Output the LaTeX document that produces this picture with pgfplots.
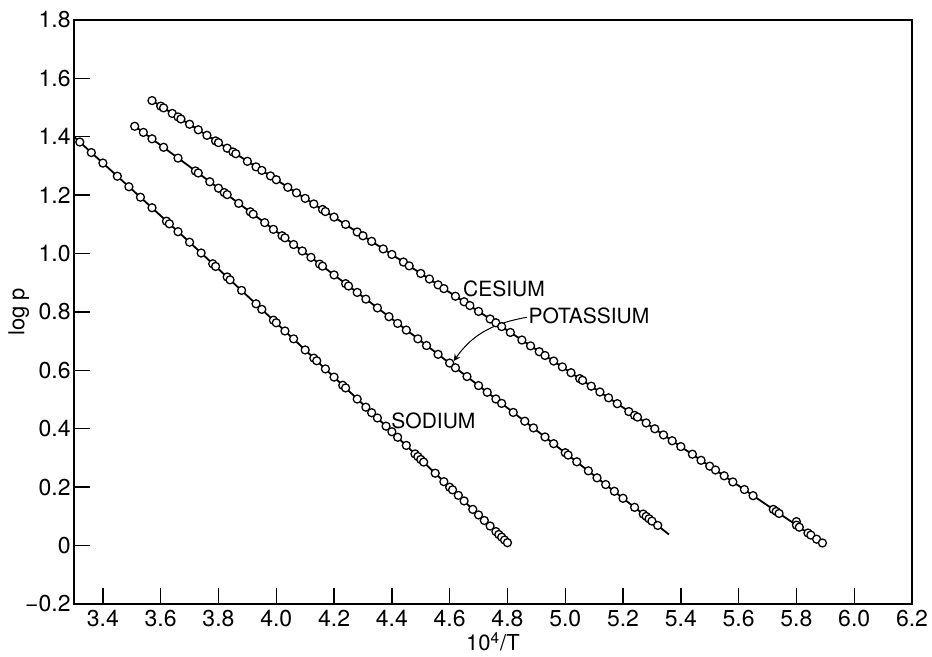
\documentclass[border=0pt]{standalone}
\usepackage{fontspec}
\setmainfont{TeX Gyre Heros}
\usepackage{pgfplots}
\pgfplotsset{compat=1.18}
\begin{document}
\begin{tikzpicture}
\begin{axis}[
  scale only axis,
  width=419pt, height=292pt,
  xmin=3.3, xmax=6.2, ymin=-0.2, ymax=1.8,
  axis line style={line width=1.1pt},
  tick style={line width=0.7pt, black},
  major tick length=8pt,
  tick align=inside,
  tick pos=left,
  xtick={3.4,3.6,3.8,4.0,4.2,4.4,4.6,4.8,5.0,5.2,5.4,5.6,5.8,6.0,6.2},
  xticklabels={3.4,3.6,3.8,4.0,4.2,4.4,4.6,4.8,5.0,5.2,5.4,5.6,5.8,6.0,6.2},
  ytick={-0.2,0,0.2,0.4,0.6,0.8,1.0,1.2,1.4,1.6,1.8},
  yticklabels={−0.2,0,0.2,0.4,0.6,0.8,1.0,1.2,1.4,1.6,1.8},
  ticklabel style={font=\fontsize{11.5}{13}\selectfont},
  yticklabel style={inner xsep=1.5pt},
  xticklabel style={inner ysep=3pt},
  xlabel={10\textsuperscript{4}/T},
  ylabel={log p},
  label style={font=\fontsize{11}{13}\selectfont},
  xlabel style={yshift=4pt},
  ylabel style={yshift=-7pt},
  clip=false,
  every axis plot/.append style={line join=round},
]
% fitted lines
\addplot[black, line width=0.9pt] coordinates {
(3.3,1.400)(3.5,1.220)(3.7,1.039)(3.9,0.855)(4.1,0.670)(4.3,0.484)(4.5,0.295)(4.7,0.105)(4.8,0.010)};
\addplot[black, line width=0.9pt] coordinates {
(3.508,1.438)(3.7,1.298)(3.9,1.150)(4.1,1.002)(4.3,0.852)(4.5,0.701)(4.7,0.548)(4.9,0.395)(5.1,0.240)(5.3,0.084)(5.359,0.038)};
\addplot[black, line width=0.9pt] coordinates {
(3.57,1.524)(3.8,1.380)(4.0,1.253)(4.2,1.125)(4.4,0.997)(4.6,0.867)(4.8,0.737)(5.0,0.605)(5.2,0.473)(5.4,0.339)(5.6,0.205)(5.8,0.070)(5.888,0.010)};
% sodium data
\addplot[only marks, mark=*, mark size=2pt, mark options={fill=white, draw=black, line width=0.65pt}] coordinates {
(3.32,1.382)(3.36,1.346)(3.40,1.310)(3.45,1.265)(3.49,1.229)(3.53,1.193)(3.57,1.157)(3.62,1.111)(3.63,1.102)(3.66,1.075)
(3.70,1.039)(3.74,1.002)(3.78,0.965)(3.79,0.956)(3.83,0.920)(3.84,0.910)(3.88,0.874)(3.93,0.828)(3.95,0.809)(3.99,0.772)
(4.00,0.763)(4.03,0.735)(4.06,0.708)(4.10,0.670)(4.13,0.642)(4.14,0.633)(4.17,0.605)(4.20,0.577)(4.23,0.549)(4.24,0.540)
(4.28,0.502)(4.31,0.474)(4.33,0.455)(4.35,0.437)(4.38,0.409)(4.40,0.390)(4.42,0.371)(4.45,0.343)(4.48,0.314)(4.49,0.305)
(4.50,0.295)(4.51,0.286)(4.55,0.248)(4.58,0.219)(4.60,0.200)(4.61,0.191)(4.63,0.172)(4.65,0.153)(4.68,0.124)(4.70,0.105)
(4.72,0.086)(4.74,0.067)(4.76,0.048)(4.77,0.038)(4.78,0.029)(4.79,0.019)(4.80,0.010)};
% potassium data
\addplot[only marks, mark=*, mark size=2pt, mark options={fill=white, draw=black, line width=0.65pt}] coordinates {
(3.51,1.436)(3.54,1.415)(3.57,1.393)(3.61,1.364)(3.66,1.327)(3.72,1.283)(3.73,1.276)(3.77,1.246)(3.80,1.224)(3.82,1.209)
(3.83,1.202)(3.87,1.172)(3.91,1.143)(3.92,1.135)(3.96,1.106)(3.99,1.083)(4.02,1.061)(4.03,1.054)(4.06,1.031)(4.09,1.009)
(4.12,0.987)(4.15,0.964)(4.16,0.957)(4.20,0.927)(4.24,0.897)(4.25,0.889)(4.28,0.867)(4.31,0.844)(4.35,0.814)(4.39,0.784)
(4.42,0.761)(4.45,0.738)(4.49,0.708)(4.52,0.685)(4.56,0.655)(4.60,0.625)(4.62,0.609)(4.66,0.579)(4.70,0.548)(4.73,0.525)
(4.76,0.502)(4.78,0.487)(4.82,0.456)(4.86,0.426)(4.89,0.403)(4.93,0.372)(4.96,0.349)(5.00,0.318)(5.01,0.310)(5.04,0.287)
(5.08,0.256)(5.11,0.232)(5.14,0.209)(5.17,0.186)(5.20,0.162)(5.24,0.131)(5.27,0.108)(5.28,0.100)(5.29,0.092)(5.30,0.084)
(5.32,0.069)};
% cesium data
\addplot[only marks, mark=*, mark size=2pt, mark options={fill=white, draw=black, line width=0.65pt}] coordinates {
(3.57,1.524)(3.60,1.505)(3.61,1.499)(3.64,1.480)(3.66,1.468)(3.67,1.461)(3.70,1.443)(3.73,1.424)(3.76,1.405)(3.79,1.386)
(3.80,1.380)(3.83,1.361)(3.85,1.348)(3.86,1.342)(3.90,1.316)(3.93,1.297)(3.95,1.285)(3.98,1.266)(4.00,1.253)(4.04,1.227)
(4.07,1.208)(4.10,1.189)(4.13,1.170)(4.16,1.151)(4.17,1.144)(4.20,1.125)(4.24,1.100)(4.28,1.074)(4.30,1.061)(4.33,1.042)
(4.37,1.016)(4.40,0.997)(4.44,0.971)(4.46,0.958)(4.50,0.932)(4.53,0.913)(4.56,0.893)(4.58,0.880)(4.62,0.854)(4.65,0.835)
(4.67,0.822)(4.70,0.802)(4.74,0.776)(4.76,0.763)(4.78,0.750)(4.81,0.730)(4.85,0.704)(4.88,0.684)(4.91,0.664)(4.93,0.651)
(4.96,0.632)(4.99,0.612)(5.02,0.592)(5.05,0.572)(5.06,0.566)(5.09,0.546)(5.12,0.526)(5.15,0.506)(5.18,0.486)(5.22,0.459)
(5.24,0.446)(5.25,0.440)(5.28,0.420)(5.31,0.400)(5.34,0.379)(5.37,0.359)(5.40,0.339)(5.44,0.313)(5.47,0.292)(5.50,0.272)
(5.52,0.259)(5.55,0.239)(5.58,0.218)(5.62,0.192)(5.65,0.171)(5.72,0.124)(5.73,0.117)(5.74,0.110)(5.80,0.082)(5.80,0.070)
(5.81,0.063)(5.84,0.043)(5.85,0.036)(5.87,0.022)(5.89,0.009)};
% labels
\node[font=\fontsize{10.5}{12}\selectfont] at (axis cs:4.788,0.878) {CESIUM};
\node[font=\fontsize{10.5}{12}\selectfont] at (axis cs:5.082,0.786) {POTASSIUM};
\node[font=\fontsize{10.5}{12}\selectfont] at (axis cs:4.544,0.428) {SODIUM};
\draw[-stealth, line width=0.5pt] (axis cs:4.868,0.782) to[out=190,in=55] (axis cs:4.614,0.632);
\end{axis}
\pgfresetboundingbox
\path ([shift={(-37pt,-26.5pt)}]current axis.south west) rectangle ([shift={(10pt,10pt)}]current axis.north east);
\end{tikzpicture}
\end{document}
